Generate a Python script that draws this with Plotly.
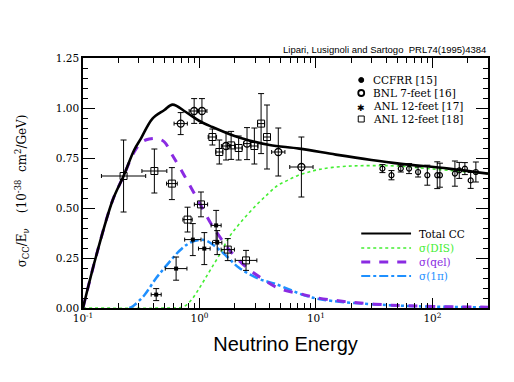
import numpy as np
import plotly.graph_objects as go

# ---- theory curves (sigma_CC / E_nu, 1e-38 cm^2/GeV) ----
e_total = [0.1, 0.129, 0.18, 0.223, 0.275, 0.314, 0.395, 0.5, 0.587, 0.764, 1.0, 1.29,
           2.0, 2.68, 4.0, 7.19, 14.8, 30, 51.8, 138, 300]
s_total = [0.0, 0.255, 0.54, 0.66, 0.79, 0.847, 0.947, 0.99, 1.017, 0.98, 0.935, 0.905,
           0.86, 0.838, 0.815, 0.797, 0.767, 0.74, 0.722, 0.697, 0.672]

e_dis = [0.1, 0.5, 0.72, 0.85, 0.97, 1.1, 1.26, 1.5, 1.8, 2.27, 3.06, 3.9, 4.7, 5.7, 7.0,
         8.7, 10.7, 13.9, 20, 30, 50, 100, 200, 300]
s_dis = [0.0, 0.0, 0.005, 0.04, 0.088, 0.14, 0.197, 0.27, 0.355, 0.43, 0.513, 0.572, 0.613,
         0.638, 0.663, 0.68, 0.693, 0.703, 0.71, 0.712, 0.71, 0.695, 0.68, 0.672]

e_qel = [0.1, 0.129, 0.18, 0.223, 0.275, 0.32, 0.37, 0.436, 0.5, 0.587, 0.74, 0.99, 1.26,
         1.53, 1.81, 2.51, 3.38, 4.85, 7.2, 10, 19.3, 45, 100, 300]
s_qel = [0.0, 0.255, 0.54, 0.66, 0.78, 0.83, 0.845, 0.847, 0.83, 0.763, 0.663, 0.53, 0.42,
         0.347, 0.289, 0.205, 0.15, 0.097, 0.072, 0.052, 0.03, 0.014, 0.008, 0.004]

e_1pi = [0.25, 0.27, 0.336, 0.425, 0.5, 0.57, 0.67, 0.77, 0.9, 1.1, 1.35, 1.7, 2.2, 3.2,
         4.5, 8.5, 13.8, 28, 63, 150, 300]
s_1pi = [0.0, 0.01, 0.064, 0.15, 0.2, 0.24, 0.285, 0.315, 0.335, 0.34, 0.31, 0.26, 0.2,
         0.147, 0.12, 0.058, 0.035, 0.02, 0.01, 0.005, 0.003]

# ---- data points: energy, value, value error, energy error (decades) ----
ccfrr_e = [37.2, 44.5, 53.5, 63, 75.3, 90.4, 110, 116, 156, 170, 190, 213, 236]
ccfrr_s = [0.697, 0.664, 0.697, 0.697, 0.68, 0.664, 0.664, 0.664, 0.672, 0.688, 0.697, 0.638, 0.68]
ccfrr_err = [0.02, 0.023, 0.017, 0.025, 0.025, 0.05, 0.067, 0.06, 0.063, 0.04, 0.03, 0.04, 0.05]

bnl_e = [0.69, 0.9, 1.05, 1.69, 2.56, 4.75, 7.5]
bnl_s = [0.922, 0.985, 0.985, 0.81, 0.822, 0.78, 0.705]
bnl_err = [0.055, 0.062, 0.062, 0.07, 0.08, 0.12, 0.15]
bnl_xdex = [0.057, 0.043, 0.043, 0.04, 0.03, 0.057, 0.1]

anl17_e = [0.425, 0.63, 0.877, 1.1, 1.39, 1.42]
anl17_s = [0.067, 0.197, 0.342, 0.297, 0.413, 0.327]
anl17_err = [0.03, 0.058, 0.08, 0.08, 0.075, 0.06]
anl17_xdex = [0.043, 0.093, 0.07, 0.05, 0.043, 0.04]

anl18_e = [0.223, 0.41, 0.58, 0.79, 1.03, 1.29, 1.48, 1.75, 1.87, 2.17, 2.51, 2.96, 3.38, 3.8]
anl18_s = [0.66, 0.685, 0.622, 0.442, 0.518, 0.855, 0.78, 0.292, 0.813, 0.80, 0.238, 0.81, 0.922, 0.855]
anl18_err = [0.18, 0.11, 0.08, 0.062, 0.062, 0.04, 0.06, 0.055, 0.07, 0.06, 0.05, 0.09, 0.15, 0.16]
anl18_xdex = [0.19, 0.107, 0.046, 0.04, 0.057, 0.036, 0.03, 0.057, 0.035, 0.03, 0.093, 0.03, 0.03, 0.03]

x_tickvals = [0.1, 1, 10, 100]
x_ticktext = ["10<sup>-1</sup>", "10<sup>0</sup>", "10<sup>1</sup>", "10<sup>2</sup>"]
y_tickvals = [0.0, 0.25, 0.5, 0.75, 1.0, 1.25]

SERIF = "DejaVu Serif"
GREEN = "#44ee33"
PURPLE = "#8a2be2"
BLUE = "#1e90ff"

fig = go.Figure()

# curves
fig.add_trace(go.Scatter(x=e_dis, y=s_dis, mode="lines", line_shape="spline",
                         line=dict(color=GREEN, width=1.6, dash="dot")))
fig.add_trace(go.Scatter(x=e_1pi, y=s_1pi, mode="lines", line_shape="spline",
                         line=dict(color=BLUE, width=2.5, dash="dashdot")))
fig.add_trace(go.Scatter(x=e_qel, y=s_qel, mode="lines", line_shape="spline",
                         line=dict(color=PURPLE, width=3, dash="dash")))
fig.add_trace(go.Scatter(x=e_total, y=s_total, mode="lines", line_shape="spline",
                         line=dict(color="black", width=2.6)))


def xerr(e, dex):
    e = np.array(e)
    d = np.array(dex)
    return dict(type="data", symmetric=False, array=e * 10 ** d - e,
                arrayminus=e - e * 10 ** (-d), color="black", thickness=1, width=2)


def yerr(err):
    return dict(type="data", array=err, color="black", thickness=1, width=3)


fig.add_trace(go.Scatter(x=ccfrr_e, y=ccfrr_s, mode="markers", error_y=yerr(ccfrr_err),
                         marker=dict(symbol="circle-open", size=5, color="black",
                                     line=dict(width=1.2))))
fig.add_trace(go.Scatter(x=bnl_e, y=bnl_s, mode="markers", error_y=yerr(bnl_err),
                         error_x=xerr(bnl_e, bnl_xdex),
                         marker=dict(symbol="circle-open", size=7, color="black",
                                     line=dict(width=1.3))))
fig.add_trace(go.Scatter(x=anl17_e, y=anl17_s, mode="markers", error_y=yerr(anl17_err),
                         error_x=xerr(anl17_e, anl17_xdex),
                         marker=dict(symbol="square", size=4, color="black")))
fig.add_trace(go.Scatter(x=anl18_e, y=anl18_s, mode="markers", error_y=yerr(anl18_err),
                         error_x=xerr(anl18_e, anl18_xdex),
                         marker=dict(symbol="square-open", size=7, color="black",
                                     line=dict(width=1))))

# ---- hand-made legends (paper coordinates) ----
PW, PH = 405.0, 250.0


def px(dx):
    return dx / PW


def py(dy):
    return dy / PH


shapes = []
annotations = []

leg1_y = [0.912, 0.860, 0.808, 0.756]
leg1_txt = ["CCFRR [15]", "BNL 7-feet [16]", "ANL 12-feet [17]", "ANL 12-feet [18]"]
mx = 0.687
for yy, t in zip(leg1_y, leg1_txt):
    annotations.append(dict(x=0.712, y=yy, xref="paper", yref="paper", text=t,
                            showarrow=False, xanchor="left", yanchor="middle",
                            font=dict(family=SERIF, size=10.5, color="black")))
r = 2.5
shapes.append(dict(type="circle", xref="paper", yref="paper", x0=mx - px(r), x1=mx + px(r),
                   y0=leg1_y[0] - py(r), y1=leg1_y[0] + py(r), fillcolor="black",
                   line=dict(color="black", width=1)))
r = 3
shapes.append(dict(type="circle", xref="paper", yref="paper", x0=mx - px(r), x1=mx + px(r),
                   y0=leg1_y[1] - py(r), y1=leg1_y[1] + py(r),
                   line=dict(color="black", width=1.8)))
annotations.append(dict(x=mx, y=leg1_y[2] - py(2), xref="paper", yref="paper", text="✱",
                        showarrow=False, xanchor="center", yanchor="middle",
                        font=dict(family="DejaVu Sans", size=9, color="black")))
r = 3
shapes.append(dict(type="rect", xref="paper", yref="paper", x0=mx - px(r), x1=mx + px(r),
                   y0=leg1_y[3] - py(r), y1=leg1_y[3] + py(r),
                   line=dict(color="black", width=1)))

leg2_y = [0.298, 0.240, 0.184, 0.128]
leg2_txt = ["Total CC", "σ(DIS)", "σ(qel)", "σ(1π)"]
leg2_col = ["black", GREEN, PURPLE, BLUE]
leg2_dash = ["solid", "dot", "dash", "dashdot"]
leg2_w = [2, 1.6, 3, 2]
for yy, t, c, d, w in zip(leg2_y, leg2_txt, leg2_col, leg2_dash, leg2_w):
    shapes.append(dict(type="line", xref="paper", yref="paper", x0=0.687, x1=0.810,
                       y0=yy, y1=yy, line=dict(color=c, width=w, dash=d)))
    annotations.append(dict(x=0.824, y=yy, xref="paper", yref="paper", text=t,
                            showarrow=False, xanchor="left", yanchor="middle",
                            font=dict(family=SERIF, size=10.5, color=c)))

annotations.append(dict(x=1.0, y=1.035, xref="paper", yref="paper",
                        text="Lipari, Lusignoli and Sartogo  PRL74(1995)4384",
                        showarrow=False, xanchor="right", yanchor="middle",
                        font=dict(family="Liberation Sans", size=9.5, color="black")))
annotations.append(dict(x=-0.151, y=0.47, xref="paper", yref="paper", textangle=-90,
                        text="σ<sub>CC</sub>/E<sub>ν</sub>    (10<sup>-38</sup>  cm<sup>2</sup>/GeV)",
                        showarrow=False, xanchor="center", yanchor="middle",
                        font=dict(family=SERIF, size=12, color="black")))

# the page body adds an 8px offset, so margins are shifted to compensate
fig.update_layout(
    width=514, height=382,
    margin=dict(l=75, r=34, t=50, b=82),
    paper_bgcolor="white", plot_bgcolor="white",
    showlegend=False,
    shapes=shapes, annotations=annotations,
    xaxis=dict(
        type="log", range=[-1, np.log10(300)],
        tickvals=x_tickvals, ticktext=x_ticktext,
        ticks="inside", ticklen=10, tickwidth=1, tickcolor="black",
        showline=True, linecolor="black", linewidth=1.5, mirror="allticks",
        showgrid=False, zeroline=False,
        tickfont=dict(family=SERIF, size=10.5, color="black"),
        minor=dict(ticks="inside", ticklen=5, tickcolor="black", tickwidth=1,
                   tickvals=[0.2, 0.3, 0.4, 0.5, 0.6, 0.7, 0.8, 0.9,
                             2, 3, 4, 5, 6, 7, 8, 9,
                             20, 30, 40, 50, 60, 70, 80, 90, 200, 300],
                   showgrid=False),
        title=dict(text="Neutrino Energy", standoff=14,
                   font=dict(family="Liberation Sans", size=20, color="black")),
    ),
    yaxis=dict(
        range=[0, 1.25], tickvals=y_tickvals, tickformat=".2f",
        ticks="inside", ticklen=12, tickwidth=1, tickcolor="black",
        showline=True, linecolor="black", linewidth=1.5, mirror="allticks",
        showgrid=False, zeroline=False,
        tickfont=dict(family=SERIF, size=10.5, color="black"),
        minor=dict(ticks="inside", ticklen=5, dtick=0.05, tickcolor="black",
                   tickwidth=1, showgrid=False),
    ),
)

fig.write_html("out.html")
